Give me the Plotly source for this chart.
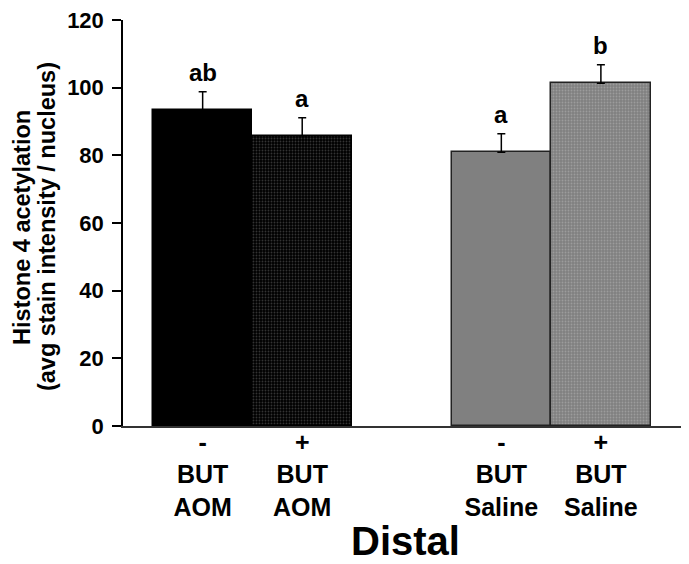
import plotly.graph_objects as go

categories = ["-<br>BUT<br>AOM", "+<br>BUT<br>AOM", "-<br>BUT<br>Saline", "+<br>BUT<br>Saline"]
positions = [1, 2, 4, 5]
values = [93.5, 85.8, 80.9, 101.3]
errors = [5.3, 5.3, 5.5, 5.5]
letters = ["ab", "a", "a", "b"]
y_ticks = [0, 20, 40, 60, 80, 100, 120]
y_title_lines = ["Histone 4 acetylation", "(avg stain intensity / nucleus)"]
x_title = "Distal"

bg_colors = ["#000000", "#000000", "#808080", "#808080"]
fg_colors = ["#000000", "#333333", "#808080", "#9c9c9c"]
shapes = ["", ".", "", "."]
line_colors = ["#000000", "#000000", "#222222", "#222222"]

FONT = "Arial, Liberation Sans"

fig = go.Figure()
for i in range(4):
    fig.add_trace(go.Bar(
        x=[positions[i]], y=[values[i]], width=1.0,
        marker=dict(color=bg_colors[i],
                    line=dict(color=line_colors[i], width=1.5),
                    pattern=dict(shape=shapes[i], bgcolor=bg_colors[i], fgcolor=fg_colors[i],
                                 size=3, solidity=0.3, fillmode="replace")),
        error_y=dict(type="data", array=[errors[i]], arrayminus=[0], symmetric=False,
                     color="#000000", thickness=1.5, width=4),
        showlegend=False,
    ))
    fig.add_annotation(x=positions[i], y=values[i] + errors[i], text=f"<b>{letters[i]}</b>",
                       showarrow=False, yanchor="bottom", yshift=4,
                       font=dict(family=FONT, size=24, color="black"))

# y-axis title as two rotated lines
for xp, txt in zip([-0.179, -0.1345], y_title_lines):
    fig.add_annotation(xref="paper", yref="paper", x=xp, y=0.49, text=f"<b>{txt}</b>",
                       textangle=-90, showarrow=False, xanchor="center", yanchor="middle",
                       font=dict(family=FONT, size=23.5, color="black"))

# x-axis title
fig.add_annotation(xref="paper", yref="paper", x=0.5, y=-0.283, text=f"<b>{x_title}</b>",
                   showarrow=False, xanchor="center", yanchor="middle",
                   font=dict(family=FONT, size=40, color="black"))

fig.update_layout(
    width=681, height=556,
    margin=dict(l=115, r=1, t=12, b=138),
    plot_bgcolor="white", paper_bgcolor="white",
    bargap=0,
    font=dict(family=FONT, color="black"),
)
fig.update_xaxes(
    range=[0.2, 5.875], tickvals=positions,
    ticktext=[f"<b>{c}</b>" for c in categories],
    tickfont=dict(size=25), showline=True, linecolor="#333333", linewidth=1.5,
    ticks="", showgrid=False, zeroline=False, ticklabelstandoff=-7,
)
fig.update_yaxes(
    range=[0, 120], tickvals=y_ticks, ticktext=[f"<b>{t}</b>" for t in y_ticks],
    tickfont=dict(size=22), showline=True, linecolor="#000000", linewidth=1.5,
    ticks="outside", ticklen=9, tickwidth=1.5, tickcolor="#000000",
    showgrid=False, zeroline=False, ticklabelstandoff=4, ticklabeloverflow="allow",
)
fig.write_html("out.html")
